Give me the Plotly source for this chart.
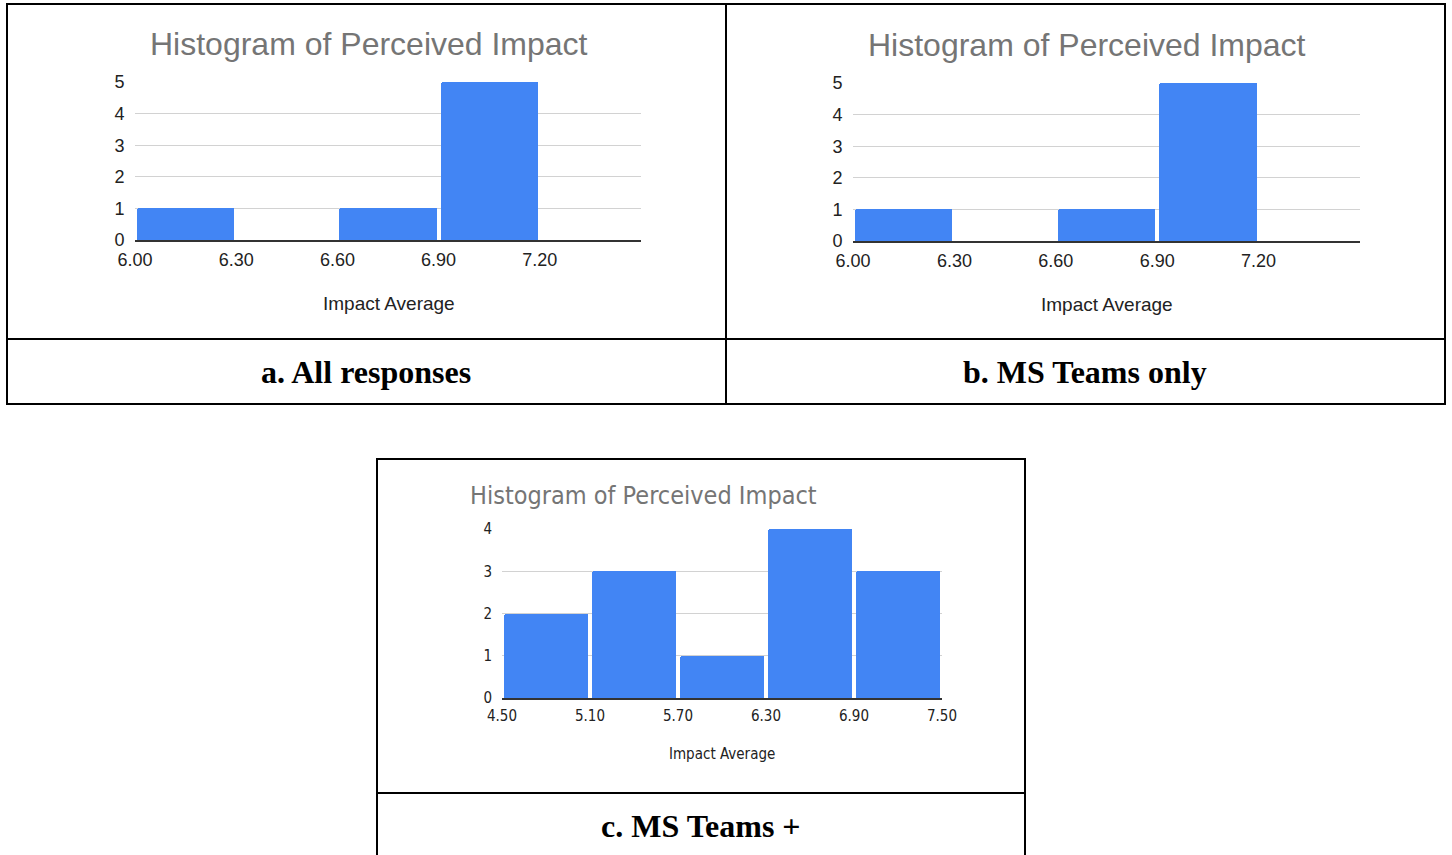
import plotly.graph_objects as go

W, H = 1452, 855

# Histogram bin edges and counts for each panel
edges_a = [6.00, 6.30, 6.60, 6.90, 7.20, 7.50]
counts_a = [1, 0, 1, 5, 0]
edges_b = [6.00, 6.30, 6.60, 6.90, 7.20, 7.50]
counts_b = [1, 0, 1, 5, 0]
edges_c = [4.50, 5.10, 5.70, 6.30, 6.90, 7.50]
counts_c = [2, 3, 1, 4, 3]

ticks_ab = ["6.00", "6.30", "6.60", "6.90", "7.20"]
ticks_c = ["4.50", "5.10", "5.70", "6.30", "6.90", "7.50"]

captions = ["a. All responses", "b. MS Teams only", "c. MS Teams +"]
chart_title = "Histogram of Perceived Impact"
x_title = "Impact Average"

BLUE = "#4285f4"
SANS = "Liberation Sans, Arial, sans-serif"
NARROW = "Liberation Sans Narrow, DejaVu Sans Condensed, Arial Narrow, Liberation Sans, sans-serif"
SERIF = "Liberation Serif, Times New Roman, serif"


def px(x):
    return x / W


def py(y):
    return 1 - y / H


fig = go.Figure()

panels = [
    dict(edges=edges_a, counts=counts_a, ticks=ticks_ab, xp=(135, 641), yp=(82, 240),
         ymax=5, font=SANS, tsize=18, title_xy=(148, 44), title_size=32,
         axt_xy=(389, 303), axt_size=19),
    dict(edges=edges_b, counts=counts_b, ticks=ticks_ab, xp=(853, 1360), yp=(83, 241),
         ymax=5, font=SANS, tsize=18, title_xy=(866, 45), title_size=32,
         axt_xy=(1107, 304), axt_size=19),
    dict(edges=edges_c, counts=counts_c, ticks=ticks_c, xp=(502, 942), yp=(529, 698),
         ymax=4, font=NARROW, tsize=15, title_xy=(468, 495), title_size=25,
         axt_xy=(722, 754), axt_size=15),
]

for i, p in enumerate(panels, start=1):
    e = p["edges"]
    centers = [(e[k] + e[k + 1]) / 2 for k in range(len(e) - 1)]
    widths = [(e[k + 1] - e[k]) for k in range(len(e) - 1)]
    xa = "x" if i == 1 else f"x{i}"
    ya = "y" if i == 1 else f"y{i}"
    fig.add_trace(go.Bar(
        x=centers, y=p["counts"], width=[w * 0.96 for w in widths],
        marker=dict(color=BLUE, line=dict(width=0), cornerradius=2),
        xaxis=xa, yaxis=ya, showlegend=False, hoverinfo="skip",
    ))
    tickvals = [float(t) for t in p["ticks"]]
    xkey = "xaxis" if i == 1 else f"xaxis{i}"
    ykey = "yaxis" if i == 1 else f"yaxis{i}"
    fig.update_layout({
        xkey: dict(
            domain=[px(p["xp"][0]), px(p["xp"][1])],
            range=[e[0], e[-1]], anchor=ya, automargin=False,
            tickvals=tickvals, ticktext=p["ticks"],
            showgrid=False, zeroline=False,
            showline=True, linecolor="#333333", linewidth=1.5,
            ticks="outside", ticklen=3, tickcolor="rgba(0,0,0,0)",
            tickfont=dict(family=p["font"], size=p["tsize"], color="#222222"),
        ),
        ykey: dict(
            domain=[py(p["yp"][1]), py(p["yp"][0])],
            range=[0, p["ymax"]], anchor=xa, automargin=False,
            dtick=1, showgrid=True, gridcolor="#d2d2d2", gridwidth=1.3,
            zeroline=False, showline=False,
            ticks="outside", ticklen=6, tickcolor="rgba(0,0,0,0)",
            tickfont=dict(family=p["font"], size=p["tsize"], color="#222222"),
        ),
    })
    fig.add_annotation(
        x=px(p["title_xy"][0]), y=py(p["title_xy"][1]), xref="paper", yref="paper",
        text=chart_title, showarrow=False, xanchor="left", yanchor="middle",
        font=dict(family=p["font"], size=p["title_size"], color="#757575"),
    )
    fig.add_annotation(
        x=px(p["axt_xy"][0]), y=py(p["axt_xy"][1]), xref="paper", yref="paper",
        text=x_title, showarrow=False, xanchor="center", yanchor="middle",
        font=dict(family=p["font"], size=p["axt_size"], color="#222222"),
    )

# Caption texts under each chart cell
for text, (cx, cy) in zip(captions, [(366, 372), (1085, 372), (701, 826)]):
    fig.add_annotation(
        x=px(cx), y=py(cy), xref="paper", yref="paper", text=f"<b>{text}</b>",
        showarrow=False, xanchor="center", yanchor="middle",
        font=dict(family=SERIF, size=32, color="#000000"),
    )

# Table borders around the panels
line = dict(color="#000000", width=2)
shapes = []
for (x0, y0, x1, y1) in [(7, 4, 1445, 404), (377, 459, 1025, 870)]:
    shapes.append(dict(type="rect", xref="paper", yref="paper",
                       x0=px(x0), x1=px(x1), y0=py(y1), y1=py(y0), line=line))
shapes.append(dict(type="line", xref="paper", yref="paper",
                   x0=px(726), x1=px(726), y0=py(404), y1=py(4), line=line))
shapes.append(dict(type="line", xref="paper", yref="paper",
                   x0=px(7), x1=px(1445), y0=py(339), y1=py(339), line=line))
shapes.append(dict(type="line", xref="paper", yref="paper",
                   x0=px(377), x1=px(1025), y0=py(793), y1=py(793), line=line))

fig.update_layout(
    width=W, height=H, margin=dict(l=0, r=0, t=0, b=0, autoexpand=False),
    paper_bgcolor="white", plot_bgcolor="white",
    bargap=0, shapes=shapes,
)

fig.write_html("out.html")
